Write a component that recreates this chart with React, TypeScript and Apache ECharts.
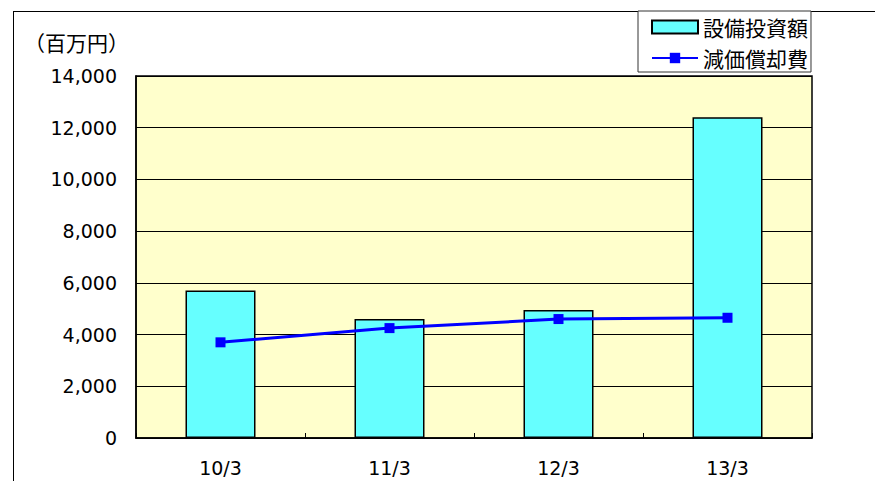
import React, { useEffect, useRef } from "react";
import * as echarts from "echarts";

const categories = ["10/3", "11/3", "12/3", "13/3"];
const capexValues = [5700, 4600, 4950, 12400];
const depreciationValues = [3700, 4250, 4600, 4650];
const capexName = "設備投資額";
const depreciationName = "減価償却費";
const unitLabel = "（百万円）";

export default function App() {
  const ref = useRef<HTMLDivElement>(null);
  useEffect(() => {
    document.body.style.margin = "0";
    const chart = echarts.init(ref.current!, null, { renderer: "svg" });
    const jp = "Noto Sans CJK JP";
    const num = "DejaVu Sans";
    chart.setOption({
      animation: false,
      backgroundColor: "#FFFFFF",
      grid: {
        left: 136,
        right: 63,
        top: 76,
        bottom: 43,
        show: true,
        backgroundColor: "#FFFFCC",
        borderColor: "#000000",
        borderWidth: 1.5,
      },
      legend: {
        orient: "vertical",
        left: 638,
        top: 11,
        padding: [5, 3, 3, 13],
        itemGap: 9,
        itemWidth: 46,
        itemHeight: 13,
        borderColor: "#333333",
        borderWidth: 1,
        backgroundColor: "#FFFFFF",
        textStyle: { fontFamily: jp, fontSize: 21, color: "#000000", lineHeight: 22 },
        data: [{ name: capexName, icon: "rect" }, { name: depreciationName }],
      },
      xAxis: {
        type: "category",
        data: categories,
        boundaryGap: true,
        axisLine: { show: true, lineStyle: { color: "#000000", width: 1.5 } },
        axisTick: { show: true, inside: true, length: 5, lineStyle: { color: "#000000" } },
        axisLabel: { fontFamily: num, fontSize: 19, color: "#000000", margin: 20 },
        splitLine: { show: false },
      },
      yAxis: {
        type: "value",
        min: 0,
        max: 14000,
        interval: 2000,
        axisLine: { show: true, lineStyle: { color: "#000000", width: 1.5 } },
        axisTick: { show: false },
        axisLabel: {
          fontFamily: num,
          fontSize: 19,
          color: "#000000",
          margin: 19,
          formatter: (v: number) => v.toLocaleString("en-US"),
        },
        splitLine: { show: true, lineStyle: { color: "#000000", width: 1 } },
      },
      graphic: [
        {
          type: "line",
          shape: { x1: 13, y1: 11.5, x2: 875, y2: 11.5 },
          style: { stroke: "#000000", lineWidth: 1 },
          z: -1,
        },
        {
          type: "line",
          shape: { x1: 13.5, y1: 11, x2: 13.5, y2: 481 },
          style: { stroke: "#000000", lineWidth: 1 },
          z: -1,
        },
        {
          type: "text",
          left: 24,
          top: 31,
          style: { text: unitLabel, font: `21px ${jp}`, fill: "#000000" },
        },
      ],
      series: [
        {
          name: capexName,
          type: "bar",
          data: capexValues,
          barWidth: 70,
          itemStyle: { color: "#66FFFF", borderColor: "#000000", borderWidth: 1.5 },
        },
        {
          name: depreciationName,
          type: "line",
          data: depreciationValues,
          symbol: "rect",
          symbolSize: 10,
          lineStyle: { color: "#0000FF", width: 3 },
          itemStyle: { color: "#0000FF" },
        },
      ],
    });
    return () => chart.dispose();
  }, []);
  return <div ref={ref} style={{ width: 875, height: 481 }} />;
}
